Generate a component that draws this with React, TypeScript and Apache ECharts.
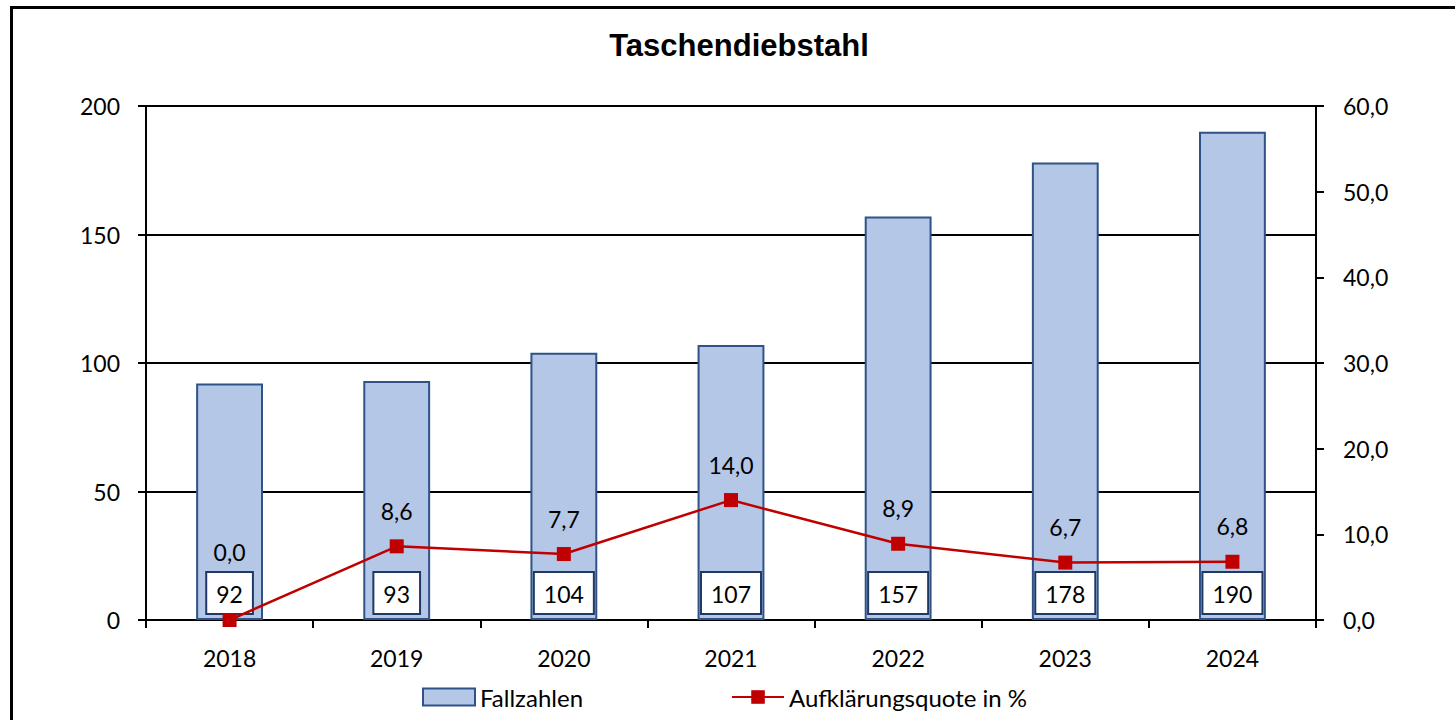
import React, { useEffect, useRef } from "react";
import * as echarts from "echarts";

const categories = ["2018", "2019", "2020", "2021", "2022", "2023", "2024"];
const fallzahlen = [92, 93, 104, 107, 157, 178, 190];
const quote = [0.0, 8.6, 7.7, 14.0, 8.9, 6.7, 6.8];

const FONT = "Lato, 'Noto Sans', sans-serif";
const fmt1 = (v: number) => v.toFixed(1).replace(".", ",");

export default function App() {
  const ref = useRef<HTMLDivElement>(null);
  useEffect(() => {
    if (!ref.current) return;
    const chart = echarts.init(ref.current, null, { renderer: "svg" });
    chart.setOption({
      animation: false,
      backgroundColor: "#fff",
      textStyle: { fontFamily: FONT },
      graphic: [
        {
          type: "rect",
          shape: { x: 11.5, y: 7.5, width: 1500, height: 800 },
          style: { fill: "none", stroke: "#000", lineWidth: 3 },
          silent: true,
          z: 100,
        },
      ],
      title: {
        text: "Taschendiebstahl",
        left: 734,
        top: 25,
        textAlign: "center",
        textStyle: {
          fontFamily: "'Liberation Sans', Arial, sans-serif",
          fontWeight: "bold",
          fontSize: 31,
          color: "#000",
        },
      },
      grid: { left: 146, right: 139, top: 106, bottom: 100, containLabel: false },
      legend: {
        left: 417,
        top: 680,
        itemWidth: 52,
        itemHeight: 17,
        itemGap: 148,
        textStyle: { fontFamily: FONT, fontSize: 24, color: "#000" },
        data: [{ name: "Fallzahlen", icon: "rect" }, { name: "Aufklärungsquote in %" }],
      },
      xAxis: {
        type: "category",
        data: categories,
        axisLine: { lineStyle: { color: "#000", width: 2 } },
        axisTick: { show: true, length: 8, lineStyle: { color: "#000", width: 2 } },
        axisLabel: { margin: 26, fontSize: 23, color: "#000", fontFamily: FONT },
      },
      yAxis: [
        {
          type: "value",
          min: 0,
          max: 200,
          interval: 50,
          axisLine: { show: true, lineStyle: { color: "#000", width: 2 } },
          axisTick: { show: true, length: 8, lineStyle: { color: "#000", width: 2 } },
          axisLabel: { margin: 26, fontSize: 23, color: "#000", fontFamily: FONT },
          splitLine: { show: true, lineStyle: { color: "#000", width: 2 } },
        },
        {
          type: "value",
          min: 0,
          max: 60,
          interval: 10,
          position: "right",
          axisLine: { show: true, lineStyle: { color: "#000", width: 2 } },
          axisTick: { show: true, length: 8, lineStyle: { color: "#000", width: 2 } },
          axisLabel: {
            margin: 27,
            fontSize: 23,
            color: "#000",
            fontFamily: FONT,
            formatter: (v: number) => fmt1(v),
          },
          splitLine: { show: false },
        },
      ],
      series: [
        {
          name: "Fallzahlen",
          type: "bar",
          data: fallzahlen,
          barWidth: "40%",
          itemStyle: { color: "#B4C7E7", borderColor: "#2F5287", borderWidth: 2 },
          label: {
            show: true,
            position: "insideBottom",
            distance: 7,
            fontSize: 23,
            color: "#000",
            fontFamily: FONT,
            backgroundColor: "#fff",
            borderColor: "#1F3864",
            borderWidth: 2,
            padding: [9, 9, 8, 9],
          },
          z: 2,
        },
        {
          name: "Aufklärungsquote in %",
          type: "line",
          yAxisIndex: 1,
          data: quote.map((v, i) =>
            i === 0 ? { value: v, label: { distance: 50 } } : v
          ),
          symbol: "rect",
          symbolSize: 14,
          lineStyle: { color: "#C00000", width: 2.5 },
          itemStyle: { color: "#C00000" },
          label: {
            show: true,
            position: "top",
            distance: 17,
            fontSize: 23,
            color: "#000",
            fontFamily: FONT,
            formatter: (p: any) => fmt1(p.value),
          },
          z: 5,
        },
      ],
    });
    return () => chart.dispose();
  }, []);
  return (
    <div
      ref={ref}
      style={{ position: "absolute", left: 0, top: 0, width: 1455, height: 720 }}
    />
  );
}
